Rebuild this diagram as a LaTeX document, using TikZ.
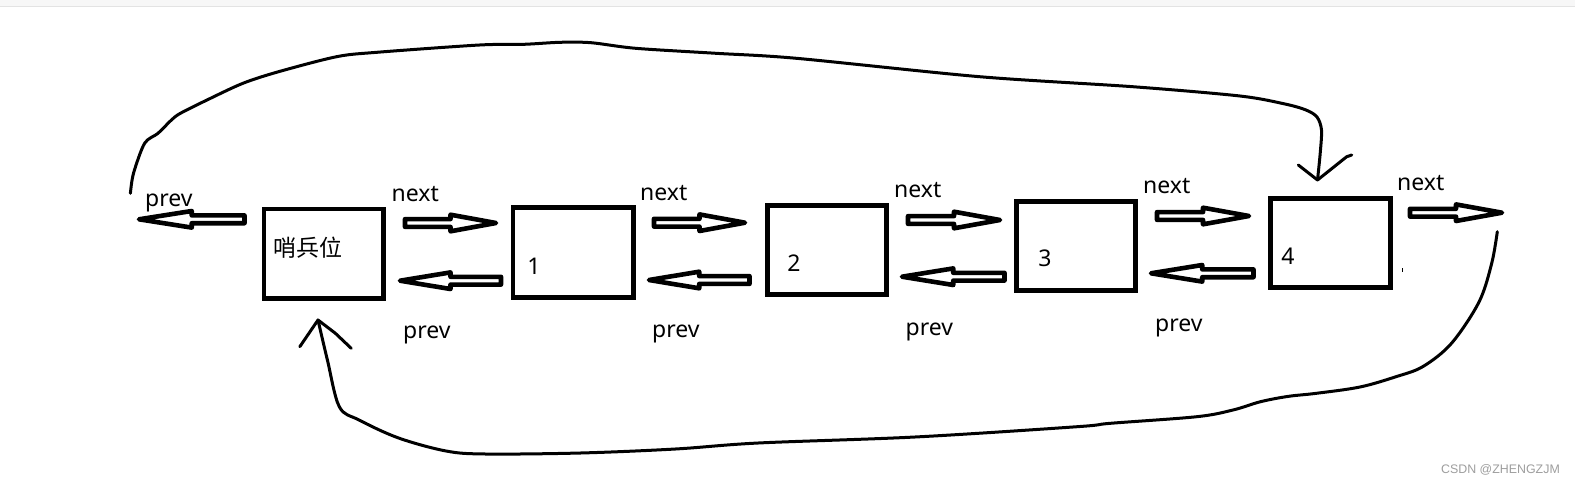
\documentclass[tikz,border=0pt]{standalone}
\usepackage{fontspec}
\setmainfont{Noto Sans}
\newfontfamily\cjk{Noto Sans CJK SC}
\newfontfamily\wmfont{Liberation Sans}
\usetikzlibrary{calc}
\tikzset{
  nodebox/.style={draw, line width=4.6pt, inner sep=0pt, outer sep=0pt},
  hollow/.style={draw, line width=4.6pt, line join=round},
  curve/.style={draw, line width=3pt, line cap=round, line join=round},
  lbl/.style={font=\fontsize{23}{27}\selectfont, inner sep=0pt, anchor=base west},
  num/.style={font=\fontsize{23}{27}\selectfont, inner sep=0pt, anchor=base},
}
\newcommand\harrow[2]{%
  \draw[hollow] let \p1=(#1), \p2=(#2), \p3=($(#1)!0.5!(#2)$) in
    (\x1,\y1+3.9pt) -- (\x3,\y1+3.9pt) -- (\x3,\y1+8.3pt) -- (\x2,\y2)
    -- (\x3,\y1-8.3pt) -- (\x3,\y1-3.9pt) -- (\x1,\y1-3.9pt) -- cycle;}
\begin{document}
\begin{tikzpicture}[x=1pt,y=-1pt]
\useasboundingbox (0,0) rectangle (1575,485);
\fill[white] (0,0) rectangle (1575,485);
\fill[black!3] (0,0) rectangle (1575,6);
\draw[black!11, line width=1.5pt] (0,6.5) -- (1575,6.5);

% boxes
\node[nodebox, minimum width=119.7pt, minimum height=89.5pt] (S) at (323.85,253.75) {};
\node[nodebox, minimum width=120.5pt, minimum height=90.4pt] (N1) at (573.25,252.5) {};
\node[nodebox, minimum width=119.4pt, minimum height=88.8pt] (N2) at (827,250) {};
\node[nodebox, minimum width=119.4pt, minimum height=89.1pt] (N3) at (1076,245.85) {};
\node[nodebox, minimum width=119.8pt, minimum height=89.4pt] (N4) at (1330.5,243) {};

% box texts
\node[lbl, font=\cjk\fontsize{23}{27}\selectfont] (tS) at (273,256.5) {哨兵位};
\node[num] (t1) at (534,274) {1};
\node[num] (t2) at (794,271) {2};
\node[num] (t3) at (1045,266.7) {3};
\node[num] (t4) at (1288,264) {4};

% next arrows
\coordinate (a0s) at (405,223);   \coordinate (a0e) at (496,223);
\coordinate (a1s) at (654,222.7); \coordinate (a1e) at (745,222.7);
\coordinate (a2s) at (908,220);   \coordinate (a2e) at (1000,220);
\coordinate (a3s) at (1157,216);  \coordinate (a3e) at (1249,216);
\coordinate (a4s) at (1410,212.7);\coordinate (a4e) at (1502,212.7);
\harrow{a0s}{a0e}
\harrow{a1s}{a1e}
\harrow{a2s}{a2e}
\harrow{a3s}{a3e}
\harrow{a4s}{a4e}

% prev arrows
\coordinate (b0s) at (244.5,219.3); \coordinate (b0e) at (139,219.3);
\coordinate (b1s) at (501,280.7);   \coordinate (b1e) at (400,280.7);
\coordinate (b2s) at (749.5,280);   \coordinate (b2e) at (649,280);
\coordinate (b3s) at (1004.5,276.7);\coordinate (b3e) at (902,276.7);
\coordinate (b4s) at (1253.5,273.3);\coordinate (b4e) at (1151,273.3);
\harrow{b0s}{b0e}
\harrow{b1s}{b1e}
\harrow{b2s}{b2e}
\harrow{b3s}{b3e}
\harrow{b4s}{b4e}

% labels
\node[lbl] (nx0) at (391.5,201.7) {next};
\node[lbl] (nx1) at (640,200.7) {next};
\node[lbl] (nx2) at (894,197) {next};
\node[lbl] (nx3) at (1143,193.3) {next};
\node[lbl] (nx4) at (1397,190.7) {next};
\node[lbl] (pv0) at (145,206) {prev};
\node[lbl] (pv1) at (403,338) {prev};
\node[lbl] (pv2) at (652,337) {prev};
\node[lbl] (pv3) at (905.5,335) {prev};
\node[lbl] (pv4) at (1155,331.7) {prev};

% top curve (prev of sentinel to node 4)
\coordinate (topstart) at (130.4,193.3);
\coordinate (tip4) at (1317.5,180);
\draw[curve] plot[smooth, tension=0.5] coordinates {
 (130.4,193.3) (133.5,173.3) (144.6,143.3) (158,133.3) (171.4,120) (180.4,113.3)
 (207,100) (242.9,83.3) (278.6,71.7) (336.6,56.7) (376.8,52.3) (479.5,45)
 (524,44.3) (559.8,42.3) (591,42.7) (635.7,48.3) (716,53.3) (796.4,58.3)
 (979.6,76.7) (1132.7,86.7) (1240,96) (1285,104) (1306,110) (1317,117)
 (1321.5,130) (1320.2,153.3) (1317.5,180)};
\draw[curve] (1298.3,165) -- (tip4) -- (1346.7,156.7) -- (1351.7,155);

% bottom curve (next of node 4 to sentinel)
\coordinate (botstart) at (1497.3,231.7);
\coordinate (tipS) at (318,320);
\draw[curve] plot[smooth, tension=0.55] coordinates {
 (1497.3,231.7) (1491.7,263.3) (1479,302) (1451.5,343.3) (1423,366.5)
 (1396,376.7) (1360,387) (1316.4,393.3) (1288,396.4) (1260.5,401.7)
 (1233,410) (1196.8,416.7) (1110.4,423.3) (1077.2,426.7) (915,437)
 (758.3,443) (675.4,449) (580.5,453) (485.6,454) (446.1,451) (398.6,438)
 (359.1,420) (339.3,406.7) (327.4,360) (318,320)};
\draw[curve] (299.8,346.7) -- (tipS) -- (335.4,333.3) -- (351.2,348.3);

% small tick
\draw[line width=1.5pt] (1402.7,268) -- (1402.7,272);

% watermark
\node[font=\wmfont\fontsize{12.4}{14}\selectfont, text=black!38, anchor=base, inner sep=0pt] (wm) at (1500.5,473.5) {CSDN @ZHENGZJM};
\end{tikzpicture}
\end{document}
